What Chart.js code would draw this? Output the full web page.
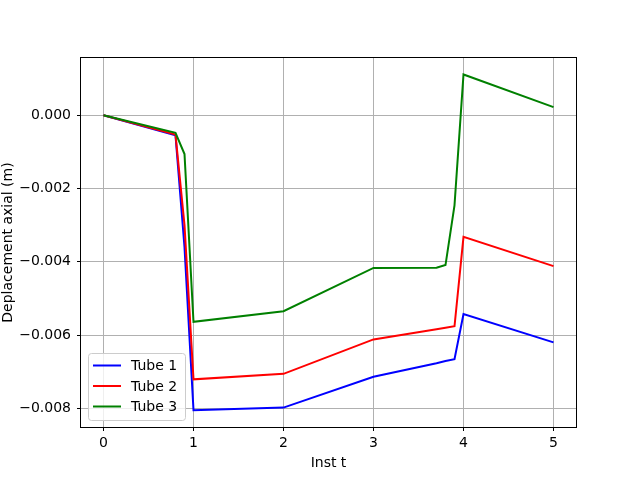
<!DOCTYPE html>
<html><head><meta charset="utf-8">
<script src="https://cdn.jsdelivr.net/npm/chart.js@4"></script>
<style>html,body{margin:0;padding:0;background:#fff}#wrap{width:640px;height:480px}</style>
</head><body><div id="wrap"><canvas id="c" width="640" height="480"></canvas></div>
<script>
const times = [0, 0.8, 0.9, 1, 2, 3, 3.7, 3.8, 3.9, 4, 5];
const tube1 = [0, -0.00055, -0.0036, -0.00805, -0.00798, -0.00714, -0.00677, -0.00671, -0.00666, -0.00543, -0.0062];
const tube2 = [0, -0.00053, -0.003, -0.00721, -0.00706, -0.00612, -0.00584, -0.0058, -0.00576, -0.00332, -0.00412];
const tube3 = [0, -0.00048, -0.00106, -0.00564, -0.00535, -0.00417, -0.004165, -0.00409, -0.00246, 0.00111, 0.00022];
const seriesLabels = ['Tube 1', 'Tube 2', 'Tube 3'];
const seriesColors = ['#0000ff', '#ff0000', '#008000'];
const xTicks = [0, 1, 2, 3, 4, 5];
const yTicks = [-0.008, -0.006, -0.004, -0.002, 0];
const xTitle = 'Inst t';
const yTitle = 'Deplacement axial (m)';

const FONT = '"DejaVu Sans", sans-serif';
const toPts = ys => times.map((t, i) => ({x: t, y: ys[i]}));

const frameLegend = {
  id: 'frameLegend',
  afterDraw(chart) {
    const ctx = chart.ctx, a = chart.chartArea;
    ctx.save();
    ctx.strokeStyle = '#000';
    ctx.lineWidth = 1;
    ctx.strokeRect(Math.round(a.left) - 0.5, Math.round(a.top) - 0.5,
                   Math.round(a.right - a.left) + 1, Math.round(a.bottom - a.top) + 1);
    // legend
    const w = 97, h = 67;
    const x0 = a.left + 7, y0 = a.bottom - 7 - h;
    ctx.beginPath();
    if (ctx.roundRect) ctx.roundRect(x0 + 0.5, y0 + 0.5, w, h, 3); else ctx.rect(x0 + 0.5, y0 + 0.5, w, h);
    ctx.fillStyle = 'rgba(255,255,255,0.8)';
    ctx.fill();
    ctx.strokeStyle = '#cccccc';
    ctx.stroke();
    ctx.font = '14px ' + FONT;
    ctx.textBaseline = 'middle';
    ctx.textAlign = 'left';
    chart.data.datasets.forEach((d, i) => {
      const cy = y0 + 12.5 + i * 20.5;
      ctx.beginPath();
      ctx.strokeStyle = d.borderColor;
      ctx.lineWidth = 2;
      ctx.moveTo(x0 + 5, cy); ctx.lineTo(x0 + 33, cy);
      ctx.stroke();
      ctx.fillStyle = '#000';
      ctx.fillText(d.label, x0 + 43, cy + 1);
    });
    ctx.restore();
  }
};

new Chart(document.getElementById('c'), {
  type: 'line',
  data: {
    datasets: [tube1, tube2, tube3].map((s, i) => ({
      label: seriesLabels[i],
      data: toPts(s),
      borderColor: seriesColors[i],
      backgroundColor: seriesColors[i],
      borderWidth: 2,
      pointRadius: 0,
      tension: 0,
      fill: false,
      order: 3 - i
    }))
  },
  options: {
    responsive: false,
    animation: false,
    devicePixelRatio: 1,
    layout: {padding: {left: 0, right: 64, top: 58, bottom: 0}},
    plugins: {legend: {display: false}, tooltip: {enabled: false}},
    scales: {
      x: {
        type: 'linear', min: -0.25, max: 5.25,
        afterBuildTicks: s => { s.ticks = xTicks.map(v => ({value: v})); },
        afterFit: s => { s.height = 53; },
        grid: {color: '#b0b0b0', lineWidth: 1, tickColor: '#000', tickLength: 4, drawTicks: true},
        border: {display: false},
        ticks: {color: '#000', font: {family: FONT, size: 14}, padding: 4, maxRotation: 0,
                callback: v => String(v)},
        title: {display: true, text: xTitle, color: '#000', font: {family: FONT, size: 14, lineHeight: 1.2}, padding: {top: 0, bottom: 8}}
      },
      y: {
        type: 'linear', min: -0.00851, max: 0.00156,
        afterBuildTicks: s => { s.ticks = yTicks.map(v => ({value: v})); },
        afterFit: s => { s.width = 81; },
        grid: {color: '#b0b0b0', lineWidth: 1, tickColor: '#000', tickLength: 4, drawTicks: true},
        border: {display: false},
        ticks: {color: '#000', font: {family: FONT, size: 14}, padding: 6,
                callback: v => (v < 0 ? '\u2212' : '') + Math.abs(v).toFixed(3)},
        title: {display: true, text: yTitle, color: '#000', font: {family: FONT, size: 14, lineHeight: 1}, padding: {top: 1, bottom: 0}}
      }
    }
  },
  plugins: [frameLegend]
});
</script>
</body></html>
